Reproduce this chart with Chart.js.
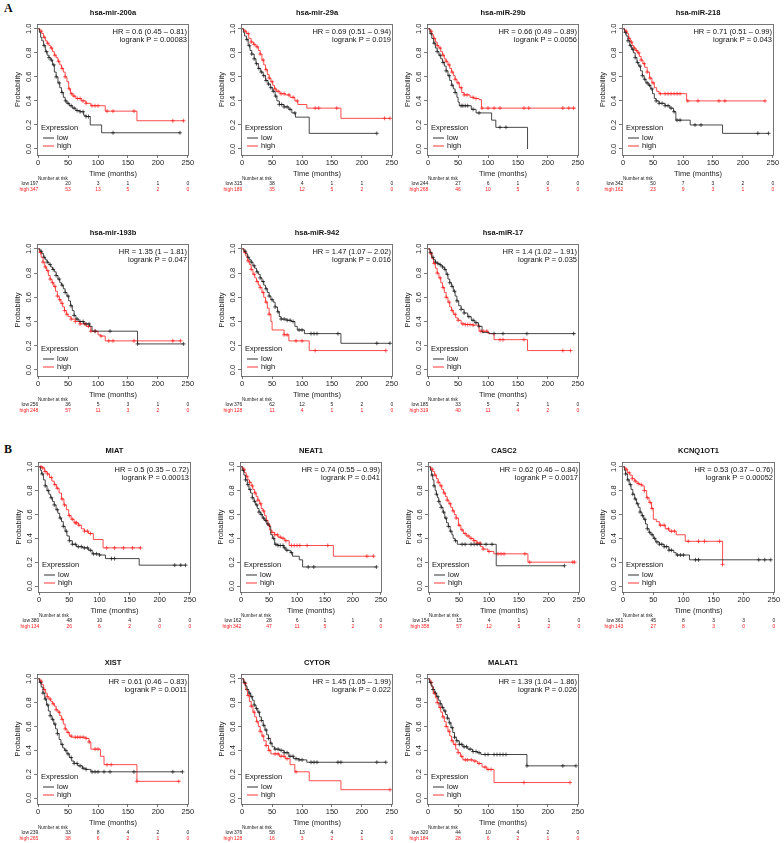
<!DOCTYPE html>
<html><head><meta charset="utf-8">
<script src="https://cdn.jsdelivr.net/npm/chart.js@4"></script>
<style>
body{margin:0;background:#fff;width:784px;height:843px;position:relative;overflow:hidden;font-family:"Liberation Sans",Arial,sans-serif}
canvas{position:absolute}
.lab{position:absolute;font:bold 12px "Liberation Serif","Times New Roman",serif;color:#111}
</style></head><body>
<div class="lab" style="left:4px;top:1px">A</div>
<div class="lab" style="left:4px;top:442px">B</div>
<script>
// ---------- DATA ----------
const timeTicks = [0, 50, 100, 150, 200, 250];
const probTicks = [0, 0.2, 0.4, 0.6, 0.8, 1.0];
const titles = ["hsa-mir-200a","hsa-mir-29a","hsa-miR-29b","hsa-miR-218","hsa-mir-193b","hsa-miR-942","hsa-miR-17",
                "MIAT","NEAT1","CASC2","KCNQ1OT1","XIST","CYTOR","MALAT1"];
const hrTexts = ["HR = 0.6 (0.45 – 0.81)","HR = 0.69 (0.51 – 0.94)","HR = 0.66 (0.49 – 0.89)","HR = 0.71 (0.51 – 0.99)",
                 "HR = 1.35 (1 – 1.81)","HR = 1.47 (1.07 – 2.02)","HR = 1.4 (1.02 – 1.91)",
                 "HR = 0.5 (0.35 – 0.72)","HR = 0.74 (0.55 – 0.99)","HR = 0.62 (0.46 – 0.84)","HR = 0.53 (0.37 – 0.76)",
                 "HR = 0.61 (0.46 – 0.83)","HR = 1.45 (1.05 – 1.99)","HR = 1.39 (1.04 – 1.86)"];
const pTexts = ["logrank P = 0.00083","logrank P = 0.019","logrank P = 0.0056","logrank P = 0.043",
                "logrank P = 0.047","logrank P = 0.016","logrank P = 0.035",
                "logrank P = 0.00013","logrank P = 0.041","logrank P = 0.0017","logrank P = 0.00052",
                "logrank P = 0.0011","logrank P = 0.022","logrank P = 0.026"];
const riskLow = [[197,20,3,1,1,0],[315,38,4,1,1,0],[244,27,6,1,0,0],[342,50,7,3,2,0],[256,36,5,3,1,0],[376,62,12,5,2,0],[185,33,5,2,1,0],
                 [380,48,10,4,3,0],[162,28,6,1,1,0],[154,15,4,1,1,0],[361,45,8,3,3,0],[239,33,8,4,2,0],[376,58,13,4,2,0],[320,44,10,4,2,0]];
const riskHigh = [[347,53,13,5,2,0],[189,35,12,5,2,0],[268,46,10,5,5,0],[162,23,9,3,1,0],[248,57,11,3,2,0],[128,11,4,1,1,0],[319,40,11,4,2,0],
                  [134,26,6,2,0,0],[342,47,11,5,2,0],[358,57,12,5,2,0],[143,27,8,3,0,0],[265,38,6,2,1,0],[128,16,3,2,1,0],[184,28,6,2,1,0]];

// Kaplan-Meier step curves [time, survival] and censoring times
const mir200a_low = [[0,1],[2,0.97],[4,0.93],[6,0.90],[9,0.86],[12,0.81],[15,0.78],[18,0.76],[21,0.74],[24,0.70],[27,0.64],[30,0.60],[33,0.55],[36,0.51],[39,0.47],[42,0.43],[45,0.40],[48,0.38],[52,0.36],[57,0.34],[63,0.32],[70,0.31],[76,0.28],[80,0.27],[87,0.20],[106,0.135],[237,0.135]];
const mir200a_lowC = [10,14,18,22,26,30,35,40,46,50,55,60,65,70,75,80,84,125,237];
const mir200a_high = [[0,1],[3,0.98],[6,0.96],[9,0.93],[12,0.90],[15,0.88],[18,0.86],[21,0.84],[24,0.81],[27,0.78],[30,0.76],[33,0.73],[36,0.70],[39,0.67],[42,0.64],[45,0.60],[48,0.56],[51,0.50],[54,0.46],[58,0.44],[63,0.42],[72,0.40],[80,0.38],[88,0.36],[112,0.315],[165,0.235],[243,0.235]];
const mir200a_highC = [5,10,16,22,28,34,40,45,52,56,60,66,70,75,80,90,95,100,115,125,160,225,243];

const mir29a_low = [[0,1],[2,0.97],[4,0.94],[7,0.91],[10,0.86],[13,0.82],[16,0.79],[20,0.75],[23,0.71],[27,0.67],[31,0.64],[35,0.61],[39,0.57],[43,0.54],[47,0.51],[51,0.48],[55,0.44],[58,0.40],[62,0.37],[70,0.35],[78,0.33],[83,0.30],[89,0.265],[112,0.13],[225,0.13]];
const mir29a_lowC = [8,12,16,20,24,28,32,36,40,44,48,52,56,62,66,70,75,80,88,225];
const mir29a_high = [[0,1],[3,0.98],[7,0.96],[11,0.92],[15,0.89],[19,0.87],[23,0.85],[27,0.82],[30,0.79],[33,0.74],[36,0.70],[39,0.66],[42,0.62],[45,0.59],[48,0.56],[51,0.53],[54,0.50],[57,0.48],[63,0.46],[72,0.45],[80,0.43],[88,0.40],[93,0.37],[108,0.34],[165,0.255],[247,0.255]];
const mir29a_highC = [5,10,15,20,25,30,35,40,45,50,55,60,65,70,78,85,92,122,128,158,238,247];

const mir29b_low = [[0,1],[3,0.96],[6,0.92],[9,0.88],[12,0.84],[15,0.81],[18,0.78],[21,0.75],[24,0.72],[27,0.69],[30,0.65],[33,0.61],[36,0.57],[39,0.53],[42,0.50],[45,0.47],[48,0.43],[50,0.39],[52,0.36],[72,0.33],[80,0.30],[106,0.24],[113,0.18],[166,0.0]];
const mir29b_lowC = [5,10,15,20,25,30,35,40,45,55,58,62,66,75,85,120,130];
const mir29b_high = [[0,1],[3,0.98],[6,0.95],[9,0.92],[12,0.89],[15,0.86],[18,0.84],[21,0.81],[24,0.78],[27,0.75],[30,0.73],[33,0.70],[36,0.67],[39,0.64],[42,0.61],[45,0.58],[48,0.55],[52,0.51],[56,0.47],[60,0.45],[70,0.43],[76,0.42],[85,0.41],[89,0.34],[246,0.34]];
const mir29b_highC = [5,10,15,20,25,30,35,40,45,50,55,60,65,75,80,90,100,110,120,160,168,225,235,243];

const mir218_low = [[0,1],[2,0.97],[5,0.94],[8,0.90],[11,0.86],[14,0.83],[17,0.80],[20,0.76],[23,0.72],[26,0.69],[29,0.65],[32,0.61],[35,0.58],[38,0.55],[42,0.53],[46,0.50],[49,0.46],[52,0.42],[55,0.40],[60,0.38],[70,0.36],[78,0.34],[84,0.31],[88,0.24],[112,0.20],[166,0.13],[243,0.13]];
const mir218_lowC = [4,8,12,16,20,24,28,32,36,40,44,48,55,60,65,70,75,80,85,90,95,120,130,225,243];
const mir218_high = [[0,1],[3,0.98],[6,0.96],[9,0.92],[12,0.89],[15,0.86],[18,0.84],[21,0.82],[24,0.80],[27,0.77],[30,0.74],[33,0.71],[36,0.68],[40,0.64],[44,0.59],[48,0.55],[52,0.51],[56,0.48],[60,0.46],[106,0.40],[237,0.40]];
const mir218_highC = [5,10,14,18,22,26,30,35,40,45,50,62,70,75,80,85,90,95,108,125,160,170,237];

const mir193b_low = [[0,1],[3,0.98],[6,0.96],[9,0.93],[12,0.91],[15,0.89],[18,0.87],[21,0.85],[24,0.83],[27,0.81],[30,0.78],[33,0.75],[36,0.72],[39,0.70],[42,0.67],[45,0.64],[48,0.61],[51,0.57],[54,0.53],[57,0.49],[60,0.45],[63,0.42],[68,0.40],[76,0.38],[86,0.36],[90,0.32],[166,0.215],[243,0.215]];
const mir193b_lowC = [5,10,15,20,25,30,35,40,45,50,55,60,65,70,75,80,85,95,120,166,243];
const mir193b_high = [[0,1],[2,0.97],[5,0.93],[8,0.89],[11,0.85],[14,0.82],[17,0.78],[20,0.75],[23,0.72],[26,0.69],[29,0.65],[32,0.61],[35,0.58],[38,0.55],[41,0.52],[44,0.49],[47,0.46],[50,0.44],[55,0.42],[62,0.40],[70,0.38],[80,0.36],[88,0.32],[100,0.29],[104,0.28],[112,0.24],[238,0.24]];
const mir193b_highC = [4,8,12,16,20,24,28,32,36,40,44,48,55,62,70,78,84,88,95,105,118,125,160,225,238];

const mir942_low = [[0,1],[3,0.98],[6,0.96],[9,0.93],[12,0.91],[15,0.89],[18,0.86],[21,0.84],[24,0.81],[27,0.79],[30,0.76],[33,0.73],[36,0.70],[39,0.67],[42,0.64],[45,0.61],[48,0.58],[52,0.56],[55,0.52],[59,0.48],[62,0.44],[65,0.42],[75,0.41],[82,0.40],[88,0.36],[92,0.33],[104,0.30],[165,0.22],[247,0.22]];
const mir942_lowC = [5,10,15,20,25,30,35,40,45,50,55,60,65,70,75,80,85,95,100,115,120,125,160,225,247];
const mir942_high = [[0,1],[3,0.97],[6,0.94],[9,0.90],[12,0.87],[15,0.83],[18,0.79],[21,0.76],[24,0.73],[27,0.70],[30,0.68],[33,0.64],[36,0.60],[39,0.56],[42,0.51],[45,0.46],[48,0.40],[50,0.33],[70,0.29],[78,0.24],[112,0.16],[240,0.16]];
const mir942_highC = [5,10,15,20,25,30,35,40,45,70,75,90,100,122,240];

const mir17_low = [[0,1],[3,0.97],[6,0.93],[9,0.91],[12,0.89],[15,0.88],[18,0.87],[21,0.86],[24,0.85],[27,0.83],[30,0.79],[33,0.75],[36,0.72],[39,0.69],[42,0.65],[45,0.61],[48,0.57],[51,0.53],[55,0.50],[60,0.47],[66,0.44],[72,0.41],[78,0.39],[84,0.36],[90,0.31],[102,0.30],[246,0.30]];
const mir17_lowC = [4,8,12,16,20,24,28,32,36,40,44,48,55,60,68,75,80,85,110,125,165,243];
const mir17_high = [[0,1],[3,0.96],[6,0.92],[9,0.88],[12,0.84],[15,0.80],[18,0.76],[21,0.72],[24,0.68],[27,0.64],[30,0.60],[33,0.56],[36,0.52],[39,0.49],[42,0.46],[46,0.43],[50,0.41],[55,0.38],[62,0.375],[75,0.37],[85,0.32],[100,0.30],[110,0.25],[166,0.16],[238,0.16]];
const mir17_highC = [5,10,15,20,25,30,35,40,45,50,58,62,66,70,75,88,92,98,120,125,160,225,238];

const miat_low = [[0,1],[2,0.97],[4,0.94],[7,0.89],[10,0.84],[13,0.80],[16,0.77],[19,0.74],[22,0.71],[25,0.68],[28,0.64],[31,0.61],[34,0.57],[37,0.54],[40,0.50],[43,0.46],[46,0.42],[50,0.38],[55,0.35],[62,0.33],[72,0.32],[82,0.30],[88,0.27],[100,0.26],[110,0.23],[166,0.175],[243,0.175]];
const miat_lowC = [5,10,15,20,25,30,35,40,45,50,55,60,65,70,75,80,85,90,95,100,120,125,225,235,243];
const miat_high = [[0,1],[5,0.99],[9,0.96],[13,0.94],[17,0.91],[21,0.88],[25,0.85],[29,0.82],[33,0.78],[37,0.73],[41,0.68],[45,0.64],[49,0.59],[53,0.56],[58,0.53],[65,0.51],[70,0.48],[75,0.46],[82,0.44],[90,0.39],[106,0.32],[168,0.32]];
const miat_highC = [3,6,10,14,20,26,30,38,42,50,55,60,62,66,75,80,85,112,125,140,155,168];

const neat1_low = [[0,1],[2,0.97],[5,0.93],[8,0.89],[11,0.85],[14,0.81],[17,0.78],[20,0.74],[23,0.71],[26,0.68],[29,0.65],[32,0.62],[35,0.60],[38,0.57],[42,0.55],[46,0.52],[50,0.50],[53,0.43],[56,0.40],[60,0.35],[66,0.34],[76,0.32],[80,0.30],[88,0.28],[92,0.25],[104,0.22],[110,0.16],[242,0.16]];
const neat1_lowC = [4,8,12,16,20,24,28,32,36,40,44,48,58,62,66,70,75,78,82,90,120,130,242];
const neat1_high = [[0,1],[3,0.98],[6,0.95],[9,0.92],[12,0.89],[15,0.87],[18,0.84],[21,0.81],[24,0.78],[27,0.75],[30,0.72],[33,0.69],[36,0.65],[39,0.63],[42,0.59],[45,0.55],[48,0.51],[51,0.47],[55,0.45],[60,0.43],[66,0.41],[72,0.40],[78,0.38],[86,0.34],[165,0.25],[237,0.25]];
const neat1_highC = [5,10,15,20,25,30,35,40,45,50,55,60,65,70,75,80,90,95,100,105,118,155,225,237];

const casc2_low = [[0,1],[2,0.97],[4,0.93],[6,0.89],[8,0.84],[10,0.80],[12,0.77],[14,0.74],[16,0.71],[18,0.68],[20,0.66],[23,0.62],[26,0.57],[29,0.53],[32,0.50],[35,0.46],[38,0.43],[40,0.40],[43,0.38],[47,0.35],[112,0.17],[226,0.17]];
const casc2_lowC = [5,8,12,16,20,24,28,32,36,44,55,60,70,75,80,85,95,105,226];
const casc2_high = [[0,1],[3,0.98],[6,0.96],[9,0.93],[12,0.90],[15,0.87],[18,0.84],[21,0.81],[24,0.78],[27,0.75],[30,0.72],[33,0.69],[36,0.66],[39,0.63],[42,0.60],[45,0.57],[49,0.51],[53,0.47],[57,0.44],[62,0.42],[68,0.40],[74,0.38],[80,0.36],[86,0.33],[90,0.31],[98,0.29],[108,0.27],[165,0.20],[243,0.20]];
const casc2_highC = [5,10,15,20,25,30,35,40,45,50,55,60,65,70,75,80,85,90,100,115,120,125,160,168,240,243];

const kcnq_low = [[0,1],[2,0.97],[4,0.94],[7,0.89],[10,0.85],[13,0.81],[16,0.77],[19,0.73],[22,0.69],[25,0.66],[28,0.62],[31,0.59],[34,0.56],[37,0.52],[40,0.48],[43,0.45],[46,0.43],[50,0.40],[54,0.37],[60,0.35],[68,0.33],[76,0.30],[84,0.28],[88,0.26],[110,0.22],[245,0.22]];
const kcnq_lowC = [4,8,12,16,20,24,28,32,36,40,44,48,52,56,60,64,68,72,76,80,90,95,100,120,125,225,235,245];
const kcnq_high = [[0,1],[3,0.98],[7,0.95],[11,0.93],[15,0.90],[19,0.88],[23,0.86],[27,0.85],[31,0.84],[35,0.80],[39,0.74],[43,0.70],[47,0.65],[50,0.56],[55,0.54],[60,0.51],[70,0.48],[76,0.46],[88,0.43],[103,0.375],[165,0.18]];
const kcnq_highC = [5,10,15,20,25,30,35,40,45,48,62,68,75,80,85,108,125,135,160,165];

const xist_low = [[0,1],[2,0.97],[5,0.93],[8,0.88],[11,0.83],[14,0.78],[17,0.73],[20,0.69],[23,0.66],[26,0.62],[29,0.58],[32,0.54],[35,0.49],[38,0.45],[41,0.42],[44,0.40],[48,0.37],[52,0.34],[56,0.31],[60,0.29],[66,0.27],[74,0.25],[80,0.24],[88,0.22],[241,0.22]];
const xist_lowC = [4,8,12,16,20,24,28,32,40,46,50,55,60,65,70,75,80,90,95,100,110,120,160,225,241];
const xist_high = [[0,1],[3,0.98],[6,0.95],[9,0.91],[12,0.88],[15,0.85],[18,0.83],[21,0.81],[24,0.79],[27,0.77],[30,0.74],[33,0.72],[36,0.69],[39,0.66],[42,0.62],[45,0.58],[48,0.55],[52,0.52],[56,0.51],[80,0.50],[85,0.47],[88,0.41],[104,0.35],[110,0.28],[165,0.14],[235,0.14]];
const xist_highC = [5,10,15,20,25,30,35,40,45,50,55,62,66,70,75,80,85,95,100,115,122,165,235];

const cytor_low = [[0,1],[2,0.97],[5,0.94],[8,0.91],[11,0.88],[14,0.85],[17,0.82],[20,0.78],[23,0.75],[26,0.72],[29,0.68],[32,0.65],[35,0.61],[38,0.57],[41,0.53],[44,0.50],[47,0.46],[50,0.43],[54,0.41],[62,0.40],[70,0.38],[78,0.35],[86,0.33],[95,0.32],[108,0.30],[240,0.30]];
const cytor_lowC = [4,8,12,16,20,24,28,32,36,40,44,48,55,60,65,70,75,80,85,90,95,100,115,120,125,160,165,225,240];
const cytor_high = [[0,1],[3,0.96],[6,0.91],[9,0.86],[12,0.81],[15,0.77],[18,0.72],[21,0.68],[24,0.64],[27,0.60],[30,0.56],[33,0.52],[36,0.48],[40,0.44],[44,0.40],[48,0.37],[62,0.35],[72,0.33],[80,0.28],[88,0.22],[112,0.145],[165,0.07],[247,0.07]];
const cytor_highC = [5,10,15,20,25,30,35,40,45,55,60,65,70,75,90,247];

const malat1_low = [[0,1],[2,0.97],[5,0.94],[8,0.91],[11,0.88],[14,0.85],[17,0.82],[20,0.79],[23,0.76],[26,0.73],[29,0.70],[32,0.67],[35,0.63],[38,0.59],[41,0.55],[44,0.51],[47,0.48],[52,0.45],[58,0.43],[66,0.41],[74,0.39],[82,0.38],[88,0.365],[165,0.27],[247,0.27]];
const malat1_lowC = [4,8,12,16,20,24,28,32,36,40,44,48,52,56,60,64,70,75,80,85,95,100,110,115,120,125,130,165,225,247];
const malat1_high = [[0,1],[3,0.97],[6,0.93],[9,0.88],[12,0.84],[15,0.80],[18,0.76],[21,0.72],[24,0.68],[27,0.64],[30,0.60],[33,0.56],[36,0.52],[39,0.48],[42,0.45],[46,0.41],[50,0.38],[54,0.35],[58,0.32],[75,0.31],[82,0.29],[90,0.26],[98,0.24],[110,0.13],[237,0.13]];
const malat1_highC = [5,10,15,20,25,30,35,40,45,50,56,62,66,72,78,85,95,100,105,160,237];

const lowCurves  = [mir200a_low,mir29a_low,mir29b_low,mir218_low,mir193b_low,mir942_low,mir17_low,miat_low,neat1_low,casc2_low,kcnq_low,xist_low,cytor_low,malat1_low];
const highCurves = [mir200a_high,mir29a_high,mir29b_high,mir218_high,mir193b_high,mir942_high,mir17_high,miat_high,neat1_high,casc2_high,kcnq_high,xist_high,cytor_high,malat1_high];
const lowCens  = [mir200a_lowC,mir29a_lowC,mir29b_lowC,mir218_lowC,mir193b_lowC,mir942_lowC,mir17_lowC,miat_lowC,neat1_lowC,casc2_lowC,kcnq_lowC,xist_lowC,cytor_lowC,malat1_lowC];
const highCens = [mir200a_highC,mir29a_highC,mir29b_highC,mir218_highC,mir193b_highC,mir942_highC,mir17_highC,miat_highC,neat1_highC,casc2_highC,kcnq_highC,xist_highC,cytor_highC,malat1_highC];

// ---------- LAYOUT (plot-area boxes in page pixels) ----------
const layout = [
  [37,24,152,131],[241,24,152,131],[427,24,152,131],[622,24,152,131],
  [37,244,152,132],[241,244,152,132],[427,244,152,132],
  [38,462,153,130],[240,462,142,130],[428,462,152,130],[622,462,153,130],
  [37,674,152,130],[241,674,152,130],[427,674,152,130]
];

const FONT = '"Liberation Sans", Arial, sans-serif';
const LOWC = '#1a1a1a', HIGHC = '#ff2020';

function stepAt(curve, t){ let v = curve[0][1]; for (const [ct,cs] of curve){ if (ct <= t) v = cs; else break; } return v; }

const deco = {
  id: 'deco',
  afterDraw(chart, args, o){
    const {ctx, chartArea:a, scales:{x,y}} = chart;
    const i = o.idx;
    ctx.save();
    ctx.strokeStyle = '#555'; ctx.lineWidth = 0.8;
    ctx.strokeRect(a.left+0.5, a.top+0.5, a.right-a.left-1, a.bottom-a.top);
    // rotated y tick labels
    ctx.fillStyle = '#222'; ctx.font = '7.5px ' + FONT;
    ctx.textAlign = 'center'; ctx.textBaseline = 'middle';
    for (const v of probTicks){
      const py = y.getPixelForValue(v);
      ctx.save(); ctx.translate(a.left - 8, py); ctx.rotate(-Math.PI/2);
      ctx.fillText(v.toFixed(1), 0, 0); ctx.restore();
    }
    // title
    ctx.font = 'bold 7.5px ' + FONT; ctx.fillStyle = '#111';
    ctx.fillText(titles[i], (a.left + a.right)/2, a.top - 11);
    // HR / logrank
    ctx.font = '7.5px ' + FONT; ctx.textAlign = 'right'; ctx.fillStyle = '#111';
    ctx.fillText(hrTexts[i], a.right - 2, a.top + 8);
    ctx.fillText(pTexts[i], a.right - 2, a.top + 16);
    // legend
    ctx.textAlign = 'left';
    ctx.fillText('Expression', a.left + 4, a.bottom - 27);
    ctx.lineWidth = 0.9;
    ctx.strokeStyle = LOWC; ctx.beginPath(); ctx.moveTo(a.left+6, a.bottom-17); ctx.lineTo(a.left+17, a.bottom-17); ctx.stroke();
    ctx.strokeStyle = HIGHC; ctx.beginPath(); ctx.moveTo(a.left+6, a.bottom-9); ctx.lineTo(a.left+17, a.bottom-9); ctx.stroke();
    ctx.fillText('low', a.left + 20, a.bottom - 17);
    ctx.fillText('high', a.left + 20, a.bottom - 9);
    // risk table
    ctx.font = '4.6px ' + FONT; ctx.fillStyle = '#222';
    ctx.fillText('Number at risk', a.left + 1, a.bottom + 24);
    ctx.font = '5px ' + FONT;
    const rows = [[riskLow[i], 'low', '#222', 29],[riskHigh[i], 'high', HIGHC, 35]];
    for (const [vals, lab, col, dy] of rows){
      ctx.fillStyle = col;
      ctx.textAlign = 'right';
      ctx.fillText(lab, a.left - 8, a.bottom + dy);
      ctx.textAlign = 'center';
      vals.forEach((v, k) => {
        let px = x.getPixelForValue(timeTicks[k]);
        if (k === 0) px -= 4;
        ctx.fillText(String(v), px, a.bottom + dy);
      });
    }
    ctx.restore();
  }
};

layout.forEach(([L,T,W,H], i) => {
  const cw = 37 + W + 8, ch = H + 68;
  const cv = document.createElement('canvas');
  cv.width = cw; cv.height = ch;
  cv.style.left = (L - 37) + 'px'; cv.style.top = (T - 28) + 'px';
  cv.style.width = cw + 'px'; cv.style.height = ch + 'px';
  document.body.appendChild(cv);
  const lc = lowCurves[i], hc = highCurves[i];
  const line = (d, col) => ({data: d.map(([x,y]) => ({x,y})), showLine:true, stepped:true, borderColor:col, borderWidth:0.8, pointRadius:0, fill:false});
  const cens = (ts, curve, col) => ({data: ts.map(t => ({x:t, y:stepAt(curve, t)})), showLine:false, pointStyle:'cross', pointRadius:2, borderColor:col, borderWidth:0.7, backgroundColor:col});
  const tickFont = {family: FONT, size: 7.5};
  new Chart(cv, {
    type: 'scatter',
    data: {datasets: [line(lc, LOWC), line(hc, HIGHC), cens(lowCens[i], lc, LOWC), cens(highCens[i], hc, HIGHC)]},
    options: {
      responsive:false, animation:false, devicePixelRatio:1, events:[],
      layout: {padding: {left:13, top:28, right:8, bottom:17}},
      plugins: {legend:{display:false}, tooltip:{enabled:false}, deco:{idx:i}},
      scales: {
        x: {type:'linear', min:-2, max:252,
            afterBuildTicks: s => { s.ticks = timeTicks.map(v => ({value:v})); },
            afterFit: s => { s.height = 23; },
            ticks: {font: tickFont, color:'#222', padding:0, maxRotation:0, autoSkip:false, callback: v => String(v)},
            title: {display:true, text:'Time (months)', padding:0, color:'#222', font:{family:FONT, size:7.5}},
            grid: {drawOnChartArea:false, drawTicks:true, tickLength:3, color:'#555', lineWidth:0.8},
            border: {display:false}},
        y: {type:'linear', min:-0.05, max:1.04,
            afterBuildTicks: s => { s.ticks = probTicks.map(v => ({value:v})); },
            afterFit: s => { s.width = 24; },
            ticks: {display:false},
            title: {display:true, text:'Probability', padding:0, color:'#222', font:{family:FONT, size:7.5}},
            grid: {drawOnChartArea:false, drawTicks:true, tickLength:3, color:'#555', lineWidth:0.8},
            border: {display:false}}
      }
    },
    plugins: [deco]
  });
});
</script>
</body></html>
